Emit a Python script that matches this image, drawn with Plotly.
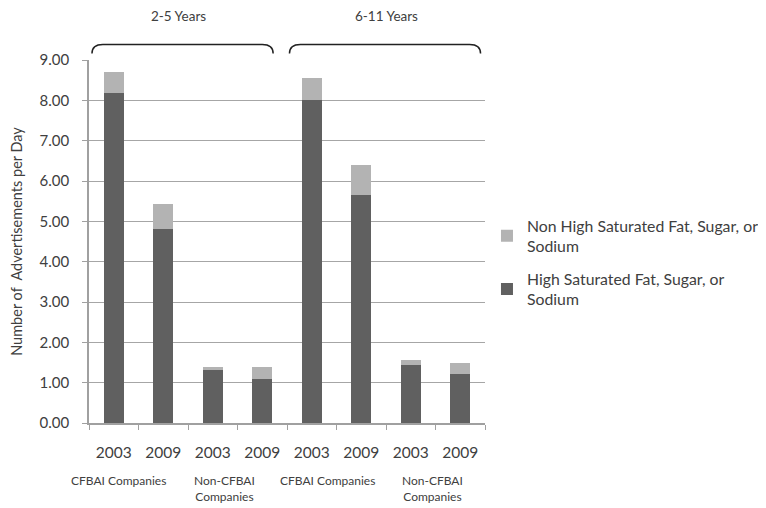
import plotly.graph_objects as go

categories = ["2-5|CFBAI|2003", "2-5|CFBAI|2009", "2-5|Non|2003", "2-5|Non|2009",
              "6-11|CFBAI|2003", "6-11|CFBAI|2009", "6-11|Non|2003", "6-11|Non|2009"]
year_labels = ["2003", "2009", "2003", "2009", "2003", "2009", "2003", "2009"]
high_values = [8.18, 4.80, 1.32, 1.10, 8.02, 5.65, 1.45, 1.21]
non_high_values = [0.52, 0.64, 0.08, 0.30, 0.53, 0.74, 0.10, 0.29]
company_labels = ["CFBAI Companies", "Non-CFBAI<br>Companies", "CFBAI Companies", "Non-CFBAI<br>Companies"]
age_labels = ["2-5 Years", "6-11 Years"]
y_ticks = [0, 1, 2, 3, 4, 5, 6, 7, 8, 9]

# text placement (category-axis units)
company_label_x = [0.09, 2.23, 4.32, 6.43]
age_label_x = [1.30, 5.50]
brace_spans = [(-0.44, 3.22), (3.55, 7.41)]

FONT = "Lato, 'Open Sans', sans-serif"
TXT = "#404040"

fig = go.Figure()
fig.add_bar(x=categories, y=high_values, name="High Saturated Fat, Sugar, or<br>Sodium",
            legendgroup="high", legendrank=2,
            marker=dict(color="#606060", line=dict(width=0)), width=0.41)
fig.add_bar(x=categories, y=non_high_values, name="Non High Saturated Fat, Sugar, or<br>Sodium",
            legendgroup="nonhigh", legendrank=1,
            marker=dict(color="#b3b3b3", line=dict(width=0)), width=0.41)

for lab, xc in zip(company_labels, company_label_x):
    fig.add_annotation(x=xc, y=0, xref="x", yref="paper", yshift=-48,
                       text=lab, showarrow=False, yanchor="top",
                       font=dict(family=FONT, size=12, color=TXT))

for lab, xc, (x0, x1) in zip(age_labels, age_label_x, brace_spans):
    fig.add_annotation(x=xc, y=1, xref="x", yref="paper", yshift=34,
                       text=lab, showarrow=False, yanchor="bottom",
                       font=dict(family=FONT, size=13.5, color=TXT))
    fig.add_shape(type="path", xref="x", yref="paper",
                  path=f"M {x0} 1.018 Q {x0} 1.043 {x0+0.22} 1.043 L {x1-0.22} 1.043 Q {x1} 1.043 {x1} 1.018",
                  line=dict(color="#222222", width=1.5))

# page body has an 8px margin, so the figure is drawn 8px smaller and offset
fig.update_layout(
    barmode="stack",
    width=758, height=500,
    margin=dict(l=81, r=281, t=52, b=85, autoexpand=False),
    plot_bgcolor="white", paper_bgcolor="white",
    font=dict(family=FONT, color=TXT),
    legend=dict(x=1.005, y=0.59, xanchor="left", yanchor="top", traceorder="grouped",
                font=dict(family=FONT, size=15.8, color=TXT), itemwidth=30,
                tracegroupgap=9),
    showlegend=True,
    bargap=0.59,
)
fig.update_xaxes(type="category", categoryorder="array", categoryarray=categories,
                 range=[-0.5, len(categories) - 0.5], autorange=False,
                 tickmode="array", tickvals=categories, ticktext=year_labels,
                 tickson="boundaries", ticks="outside", ticklen=5, tickcolor="#a0a0a0",
                 showline=True, linecolor="#a0a0a0", linewidth=1.5, automargin=False,
                 ticklabelstandoff=15,
                 tickfont=dict(family=FONT, size=15.5, color=TXT), showgrid=False)
fig.update_yaxes(range=[0, 9], tickvals=y_ticks, tickformat=".2f",
                 ticks="outside", ticklen=5, tickcolor="#a0a0a0",
                 showline=True, linecolor="#a0a0a0", linewidth=1.5, automargin=False,
                 ticklabelstandoff=10,
                 gridcolor="#a6a6a6", gridwidth=1.2,
                 tickfont=dict(family=FONT, size=15, color=TXT),
                 title=dict(text="Number of  Advertisements per Day",
                            font=dict(family=FONT, size=14.5, color=TXT), standoff=14))

fig.write_html("out.html")
